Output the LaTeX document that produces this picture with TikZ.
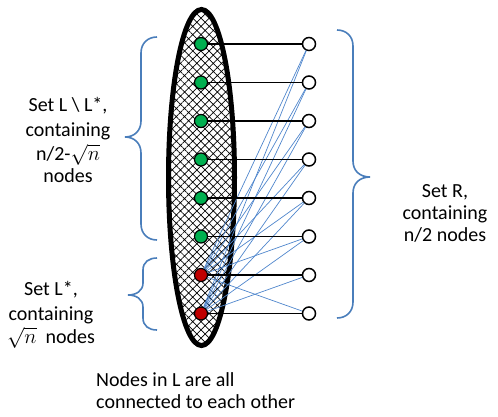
\documentclass[tikz,border=0pt]{standalone}
\usepackage{fontspec}
\setmainfont{Carlito}
\usetikzlibrary{patterns.meta}
\definecolor{accblue}{HTML}{4A7EBB}
\definecolor{edgeblue}{HTML}{4F86CC}
\definecolor{lgreen}{HTML}{00B050}
\definecolor{dred}{HTML}{C00000}
\begin{document}
\begin{tikzpicture}[x=1pt,y=-1pt,
  lnode/.style={circle,draw=black,line width=1.2pt,minimum size=13pt,inner sep=0pt},
  gnode/.style={lnode,fill=lgreen},
  rnode/.style={lnode,fill=dred},
  wnode/.style={lnode,fill=white,line width=1.5pt},
  hedge/.style={black,line width=1.5pt},
  bedge/.style={edgeblue,line width=0.7pt},
  bracestyle/.style={accblue,line width=1.6pt},
  lbl/.style={font=\fontsize{20}{24}\selectfont,inner sep=0pt,anchor=base,align=center}]
\useasboundingbox (0,0) rectangle (498,416);
% the set L
\fill[white] (201.5,177.5) ellipse [x radius=33, y radius=168];
\fill[pattern={Hatch[angle=45,distance=5.8pt,line width=0.7pt]}] (201.5,177.5) ellipse [x radius=33, y radius=168];
\draw[line width=5pt] (201.5,177.5) ellipse [x radius=33, y radius=168];
% nodes
\foreach \i/\st in {1/gnode,2/gnode,3/gnode,4/gnode,5/gnode,6/gnode,7/rnode,8/rnode}{
  \node[\st] (L\i) at (201,{44+(\i-1)*38.5}) {};
  \node[wnode] (R\i) at (309,{44+(\i-1)*38.5}) {};
}
% edges
\foreach \j in {1,...,6,8} \draw[bedge] (L7) -- (R\j);
\foreach \j in {1,...,7} \draw[bedge] (L8) -- (R\j);
\foreach \i in {1,...,8} \draw[hedge] (L\i) -- (R\i);
% braces
\draw[bracestyle] (157,37) .. controls (148,37) and (141,43) .. (141,53) -- (141,121) .. controls (141,131) and (134,137) .. (125,137) .. controls (134,137) and (141,143) .. (141,153) -- (141,224) .. controls (141,234) and (148,240) .. (157,240);
\draw[bracestyle] (157,258) .. controls (149,258) and (143,262) .. (143,270) -- (143,283) .. controls (143,291) and (136,295) .. (128,295) .. controls (136,295) and (143,299) .. (143,307) -- (143,318) .. controls (143,326) and (149,330) .. (157,330);
\draw[bracestyle] (337,30) .. controls (346,30) and (353,36) .. (353,46) -- (353,161) .. controls (353,171) and (360,177) .. (370,177) .. controls (360,177) and (353,183) .. (353,193) -- (353,302) .. controls (353,312) and (346,318) .. (337,318);
% labels (base anchor = baseline of the last line)
\node[lbl] (a) at (68,182) {Set L \textbackslash\ L*,\\[1pt] containing\\ n/2-$\sqrt{n}$\\[-2pt] nodes};
\node[lbl] (b) at (51,343) {Set L*,\\[1pt] containing\\[-1pt] $\sqrt{n}$\ \ nodes};
\node[lbl,font=\fontsize{20}{22}\selectfont] (c) at (445,241) {Set R,\\ containing\\ n/2 nodes};
\node[lbl,font=\fontsize{20}{22}\selectfont,align=left,anchor=base west] (d) at (96,408) {Nodes in L are all\\ connected to each other};
\end{tikzpicture}
\end{document}
